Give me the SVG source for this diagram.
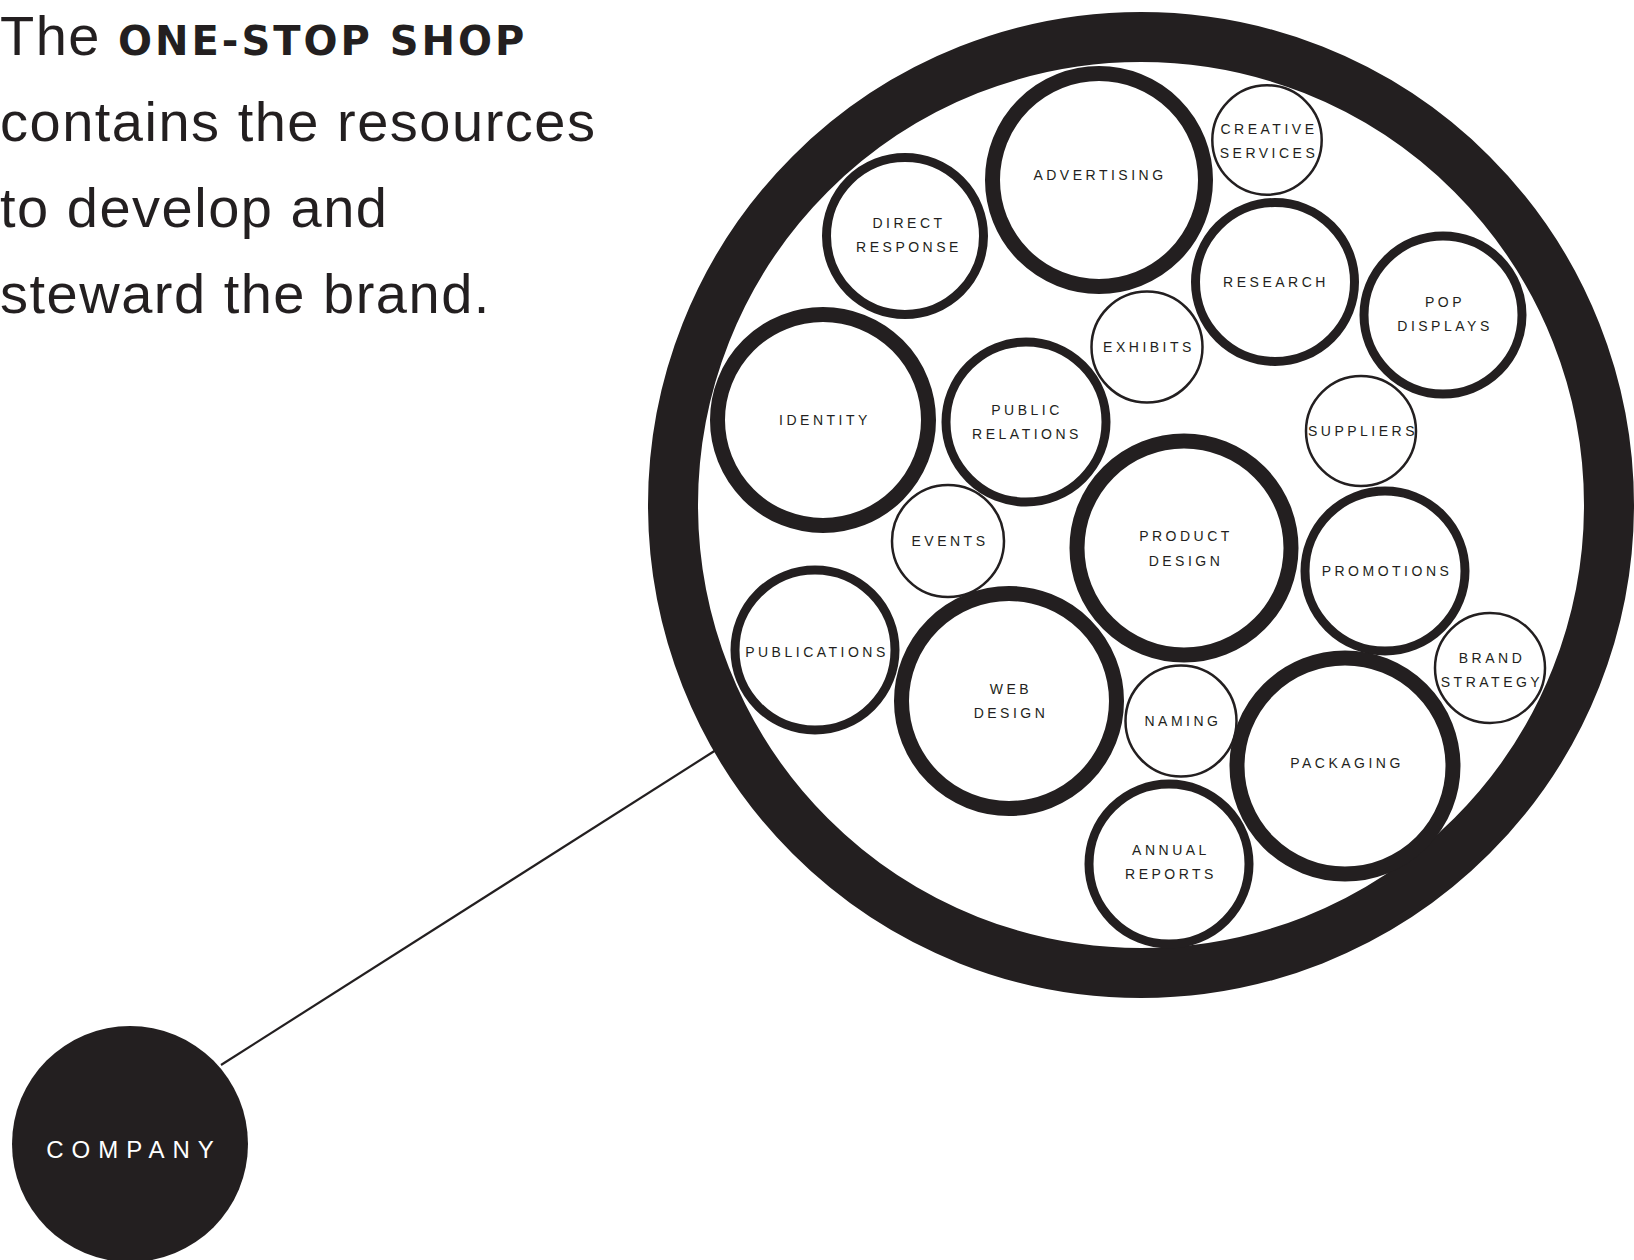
<svg xmlns="http://www.w3.org/2000/svg" width="1634" height="1260" viewBox="0 0 1634 1260">
<style>
.intro{font-family:"Liberation Sans",Arial,sans-serif;font-size:56px;letter-spacing:1.5px;fill:#231f20}
.brand{font-family:"DejaVu Sans",sans-serif;font-weight:bold;font-size:40px;letter-spacing:3px}
.lbl{font-family:"Liberation Sans",Arial,sans-serif;font-size:14px;letter-spacing:3.5px;fill:#231f20;text-anchor:middle}
.thick{fill:none;stroke:#231f20;stroke-width:15}
.mid{fill:none;stroke:#231f20;stroke-width:9}
.thin{fill:none;stroke:#231f20;stroke-width:2.5}
.conn{stroke:#231f20;stroke-width:2.2;fill:none}
</style>
<rect width="1634" height="1260" fill="#fff"/>
<g id="intro-text">
<text class="intro" x="0" y="55">The <tspan class="brand">ONE-STOP SHOP</tspan></text>
<text class="intro" x="0" y="141">contains the resources</text>
<text class="intro" x="0" y="227">to develop and</text>
<text class="intro" x="0" y="313">steward the brand.</text>
</g>
<g id="connectors">
<line class="conn" x1="221" y1="1065" x2="716" y2="750"/>
</g>
<g id="one-stop-shop">
<circle cx="1141" cy="505" r="468" fill="none" stroke="#231f20" stroke-width="50"/>
</g>
<g id="advertising"><circle class="thick" cx="1099" cy="180" r="106.5"/><text class="lbl" x="1100" y="180">ADVERTISING</text></g>
<g id="creative-services"><circle class="thin" cx="1267" cy="140" r="54.7"/><text class="lbl" x="1269" y="134">CREATIVE</text><text class="lbl" x="1269" y="158">SERVICES</text></g>
<g id="direct-response"><circle class="mid" cx="905" cy="236" r="78.5"/><text class="lbl" x="909" y="228">DIRECT</text><text class="lbl" x="909" y="252">RESPONSE</text></g>
<g id="research"><circle class="mid" cx="1275" cy="282" r="79.5"/><text class="lbl" x="1276" y="287">RESEARCH</text></g>
<g id="pop-displays"><circle class="mid" cx="1443" cy="315" r="79"/><text class="lbl" x="1445" y="307">POP</text><text class="lbl" x="1445" y="331">DISPLAYS</text></g>
<g id="exhibits"><circle class="thin" cx="1147" cy="347" r="55.5"/><text class="lbl" x="1149" y="352">EXHIBITS</text></g>
<g id="identity"><circle class="thick" cx="823" cy="420" r="105.5"/><text class="lbl" x="825" y="425">IDENTITY</text></g>
<g id="public-relations"><circle class="mid" cx="1026" cy="422" r="80"/><text class="lbl" x="1027" y="415">PUBLIC</text><text class="lbl" x="1027" y="439">RELATIONS</text></g>
<g id="suppliers"><circle class="thin" cx="1361" cy="431" r="55"/><text class="lbl" x="1363" y="436">SUPPLIERS</text></g>
<g id="product-design"><circle class="thick" cx="1184" cy="548" r="107"/><text class="lbl" x="1186" y="541">PRODUCT</text><text class="lbl" x="1186" y="566">DESIGN</text></g>
<g id="events"><circle class="thin" cx="948" cy="541" r="56"/><text class="lbl" x="950" y="546">EVENTS</text></g>
<g id="promotions"><circle class="mid" cx="1385" cy="571" r="80"/><text class="lbl" x="1387" y="576">PROMOTIONS</text></g>
<g id="publications"><circle class="mid" cx="815" cy="650" r="80"/><text class="lbl" x="817" y="657">PUBLICATIONS</text></g>
<g id="web-design"><circle class="thick" cx="1009" cy="701" r="107.5"/><text class="lbl" x="1011" y="694">WEB</text><text class="lbl" x="1011" y="718">DESIGN</text></g>
<g id="brand-strategy"><circle class="thin" cx="1490" cy="668" r="55"/><text class="lbl" x="1492" y="663">BRAND</text><text class="lbl" x="1492" y="687">STRATEGY</text></g>
<g id="naming"><circle class="thin" cx="1181" cy="721" r="55.5"/><text class="lbl" x="1183" y="726">NAMING</text></g>
<g id="packaging"><circle class="thick" cx="1345" cy="766" r="108"/><text class="lbl" x="1347" y="768">PACKAGING</text></g>
<g id="annual-reports"><circle class="mid" cx="1169" cy="864" r="80"/><text class="lbl" x="1171" y="855">ANNUAL</text><text class="lbl" x="1171" y="879">REPORTS</text></g>
<g id="company"><circle cx="130" cy="1144" r="118" fill="#231f20"/><text x="134" y="1158" font-family="'Liberation Sans',Arial,sans-serif" font-size="24" letter-spacing="8" fill="#fff" text-anchor="middle">COMPANY</text></g>
</svg>
